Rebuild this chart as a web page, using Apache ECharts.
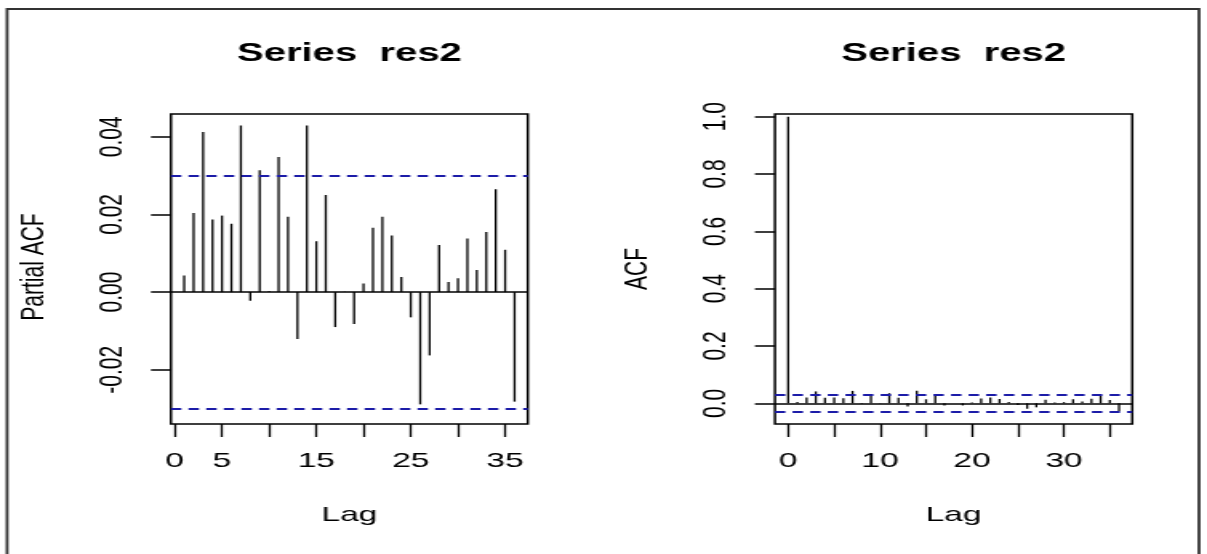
<!DOCTYPE html>
<html>
<head>
<meta charset="utf-8">
<script src="https://cdn.jsdelivr.net/npm/echarts@6/dist/echarts.min.js"></script>
<style>
  html, body { margin: 0; padding: 0; background: #fff; overflow: hidden; }
  #wrap { width: 1207px; height: 554px; overflow: hidden; position: relative; background: #fff; }
  /* the plot is laid out on a narrower canvas and widened horizontally */
  #chart { width: 754px; height: 554px; transform: scaleX(1.6008); transform-origin: 0 0; }
</style>
</head>
<body>
<div id="wrap"><div id="chart"></div></div>
<script>
// Partial autocorrelation of the residuals, lags 1..36
const pacfLags = [1, 2, 3, 4, 5, 6, 7, 8, 9, 10, 11, 12, 13, 14, 15, 16, 17, 18,
                  19, 20, 21, 22, 23, 24, 25, 26, 27, 28, 29, 30, 31, 32, 33, 34, 35, 36];
const pacfValues = [0.0043, 0.0204, 0.0412, 0.0187, 0.0197, 0.0176, 0.0429, -0.0022, 0.0314,
                    0.0002, 0.0348, 0.0194, -0.0121, 0.0429, 0.0131, 0.0250, -0.0090, 0.0001,
                    -0.0082, 0.0022, 0.0166, 0.0194, 0.0146, 0.0039, -0.0065, -0.0289, -0.0163,
                    0.0121, 0.0026, 0.0036, 0.0138, 0.0057, 0.0155, 0.0265, 0.0109, -0.0282];

// Autocorrelation of the residuals, lags 0..36
const acfLags = [0, 1, 2, 3, 4, 5, 6, 7, 8, 9, 10, 11, 12, 13, 14, 15, 16, 17, 18,
                 19, 20, 21, 22, 23, 24, 25, 26, 27, 28, 29, 30, 31, 32, 33, 34, 35, 36];
const acfValues = [1.0000, 0.0042, 0.0206, 0.0415, 0.0192, 0.0203, 0.0180, 0.0433, -0.0018, 0.0318,
                   0.0010, 0.0352, 0.0198, -0.0108, 0.0437, 0.0140, 0.0258, -0.0080, 0.0006,
                   -0.0074, 0.0030, 0.0172, 0.0200, 0.0150, 0.0044, -0.0055, -0.0190, -0.0140,
                   0.0128, 0.0030, 0.0040, 0.0142, 0.0062, 0.0160, 0.0270, 0.0114, -0.0280];

// 95% significance bound
const confBound = 0.031;

// Tick positions and labelled ticks
const pacfXTicks = [0, 5, 10, 15, 20, 25, 30, 35];
const pacfXLabels = [0, 5, 15, 25, 35];
const pacfYTicks = [-0.02, 0.00, 0.02, 0.04];
const acfXTicks = [0, 5, 10, 15, 20, 25, 30, 35];
const acfXLabels = [0, 10, 20, 30];
const acfYTicks = [0.0, 0.2, 0.4, 0.6, 0.8, 1.0];

const titles = ['Series  res2', 'Series  res2'];
const yNames = ['Partial ACF', 'ACF'];
const xName = 'Lag';

const FONT = '"Liberation Sans", Arial, Helvetica, sans-serif';
const INK = '#000';
const DASH_BLUE = '#1c1ca8';

const chart = echarts.init(document.getElementById('chart'), null, { renderer: 'canvas' });

// vertical spikes from zero to each value
function spikes(params, api) {
  const lag = api.value(0);
  const v = api.value(1);
  const p0 = api.coord([lag, 0]);
  const p1 = api.coord([lag, v]);
  return {
    type: 'line',
    shape: { x1: p0[0], y1: p0[1], x2: p1[0], y2: p1[1] },
    style: { stroke: INK, lineWidth: 1.3 }
  };
}

function refLines() {
  return {
    silent: true,
    symbol: 'none',
    label: { show: false },
    data: [
      { yAxis: 0, lineStyle: { color: INK, type: 'solid', width: 1.5 } },
      { yAxis: confBound, lineStyle: { color: DASH_BLUE, type: [6.5, 4.5], width: 1.8 } },
      { yAxis: -confBound, lineStyle: { color: DASH_BLUE, type: [6.5, 4.5], width: 1.8 } }
    ]
  };
}

const grids = [
  { left: 106.8, top: 114, width: 222.9, height: 310 },
  { left: 484.1, top: 114, width: 223.2, height: 310 }
];

function xAxisOf(idx, min, max, ticks, labels) {
  return {
    type: 'value', gridIndex: idx, min: min, max: max, position: 'bottom',
    splitLine: { show: false },
    axisLine: { show: false, onZero: false },
    axisTick: { show: true, length: 13, customValues: ticks, lineStyle: { color: INK, width: 1.3 } },
    axisLabel: {
      show: true, customValues: labels, margin: 27,
      color: INK, fontFamily: FONT, fontSize: 21
    }
  };
}

function yAxisOf(idx, min, max, ticks, digits) {
  return {
    type: 'value', gridIndex: idx, min: min, max: max, position: 'left',
    splitLine: { show: false },
    axisLine: { show: false, onZero: false },
    axisTick: { show: true, length: 12.5, customValues: ticks, lineStyle: { color: INK, width: 1.5 } },
    axisLabel: {
      show: true, customValues: ticks, rotate: 90, margin: 26,
      color: INK, fontFamily: FONT, fontSize: 21,
      formatter: v => Number(v).toFixed(digits)
    }
  };
}

function textEl(text, x, y, opts) {
  return Object.assign({
    type: 'text', x: x, y: y, silent: true,
    style: Object.assign({
      text: text, fill: INK, font: '21px ' + FONT,
      align: 'center', verticalAlign: 'middle'
    }, opts && opts.style)
  }, opts && opts.el);
}

const boxCenters = grids.map(g => g.left + g.width / 2);

const option = {
  backgroundColor: '#fff',
  animation: false,
  grid: grids.map(g => Object.assign({ show: true, borderColor: INK, borderWidth: 1.5, backgroundColor: 'transparent' }, g)),
  xAxis: [
    xAxisOf(0, -0.4, 37.4, pacfXTicks, pacfXLabels),
    xAxisOf(1, -1.44, 37.44, acfXTicks, acfXLabels)
  ],
  yAxis: [
    yAxisOf(0, -0.03396, 0.04586, pacfYTicks, 2),
    yAxisOf(1, -0.0722, 1.0094, acfYTicks, 1)
  ],
  series: [
    {
      type: 'custom', name: 'PACF', xAxisIndex: 0, yAxisIndex: 0,
      renderItem: spikes, silent: true,
      data: pacfLags.map((l, i) => [l, pacfValues[i]]),
      markLine: refLines()
    },
    {
      type: 'custom', name: 'ACF', xAxisIndex: 1, yAxisIndex: 1,
      renderItem: spikes, silent: true,
      data: acfLags.map((l, i) => [l, acfValues[i]]),
      markLine: refLines()
    }
  ],
  graphic: [
    // page frame
    {
      type: 'rect', silent: true,
      shape: { x: 4.4, y: 9, width: 744.6, height: 570 },
      style: { fill: 'none', stroke: '#333', lineWidth: 1.8 }
    },
    textEl(titles[0], boxCenters[0], 54, { style: { font: 'bold 25px ' + FONT } }),
    textEl(titles[1], boxCenters[1], 54, { style: { font: 'bold 25px ' + FONT } }),
    textEl(xName, boxCenters[0], 515),
    textEl(xName, boxCenters[1], 515),
    textEl(yNames[0], 21.3, 267, { el: { rotation: Math.PI / 2 } }),
    textEl(yNames[1], 398.5, 269, { el: { rotation: Math.PI / 2 } })
  ]
};

chart.setOption(option);
</script>
</body>
</html>
